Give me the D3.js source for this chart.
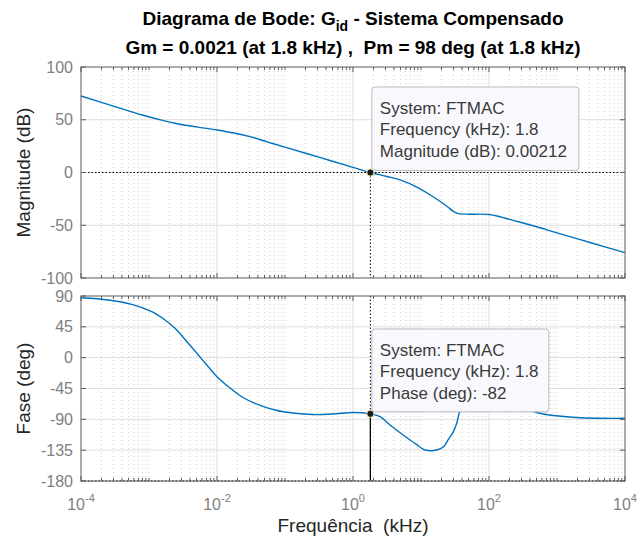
<!DOCTYPE html>
<html>
<head>
<meta charset="utf-8">
<script src="https://cdn.jsdelivr.net/npm/d3@7"></script>
<style>
  body { margin: 0; background: #fff; }
  svg { display: block; }
  text { font-family: "Liberation Sans", Arial, Helvetica, sans-serif; white-space: pre; }
</style>
</head>
<body>
<svg id="chart" width="640" height="543"></svg>
<script>
// Open-loop response of the compensated current loop (kHz, dB, deg)
const magFreq = [0.0001, 0.000316, 0.000794, 0.00158, 0.00251, 0.00501, 0.01, 0.0178, 0.0316, 0.0562, 0.1, 0.316, 1.0, 1.8, 3.16, 4.9, 8.7, 15.1, 24, 29.9, 35.5, 46.8, 100, 145, 200, 447, 1000, 3162, 10000];
const magDb   = [72.5, 62.5, 54.5, 49.4, 46.5, 43.2, 40.3, 37.4, 33.7, 28.8, 24.0, 14.5, 4.9, 0.00212, -3.8, -7.0, -13.8, -23, -32.0, -36.8, -39.0, -39.5, -39.8, -41.9, -44.4, -50.5, -57.2, -66.6, -76];

const phaseFreq = [0.0001, 0.000252, 0.000557, 0.0011, 0.00172, 0.00241, 0.00378, 0.00531, 0.00745, 0.01, 0.0147, 0.0231, 0.0362, 0.0713, 0.14, 0.25, 0.5, 1.0, 1.8, 2.5, 3.5, 6.9, 8.6, 10.7, 13.5, 17, 21.4, 25, 30, 33.5, 37, 56, 100, 200, 350, 500, 1700, 10000];
const phaseDeg  = [87.5, 84.2, 77.8, 67.1, 55.0, 42.8, 21.0, 3.9, -13.2, -27.8, -42.4, -57.0, -66.6, -76.4, -81.2, -83, -82.3, -80, -82, -86.2, -98.3, -120.2, -126.5, -133.4, -135.8, -134.8, -130, -120, -108, -95.8, -79, -45, -38, -55, -74, -80, -87, -88.5];

const magTicks   = [100, 50, 0, -50, -100];
const phaseTicks = [90, 45, 0, -45, -90, -135, -180];
const freqTicks  = [1e-4, 1e-2, 1, 1e2, 1e4];
const freqTickExp = ["-4", "-2", "0", "2", "4"];

// Crossover read-out (gain and phase margin point)
const crossFreq  = 1.8;
const crossMag   = 0.00212;
const crossPhase = -82;

const titleMain = "Diagrama de Bode: G";
const titleSub  = "id";
const titleRest = " - Sistema Compensado";
const subtitle  = "Gm = 0.0021 (at 1.8 kHz) ,  Pm = 98 deg (at 1.8 kHz)";
const magTipLines   = ["System: FTMAC", "Frequency (kHz): 1.8", "Magnitude (dB): 0.00212"];
const phaseTipLines = ["System: FTMAC", "Frequency (kHz): 1.8", "Phase (deg): -82"];

const svg = d3.select("#chart");
const left = 81, right = 625;
const magTop = 67, magBot = 278;
const phTop = 296, phBot = 481;

const x = d3.scaleLog().domain([1e-4, 1e4]).range([left, right]);
const yMag = d3.scaleLinear().domain([-100, 100]).range([magBot, magTop]);
const yPh = d3.scaleLinear().domain([-180, 90]).range([phBot, phTop]);

const allTicks = x.ticks();
const isMajor = f => freqTicks.some(t => Math.abs(Math.log10(f) - Math.log10(t)) < 1e-6);
const minorTicks = allTicks.filter(f => !isMajor(f) && f > 1e-4 && f < 1e4);

const axisColor = "#5a5a5a";
const lineColor = "#0072BD";

function panel(yScale, yTicks, top, bot, freqs, vals) {
  const g = svg.append("g");
  // minor vertical grid
  g.selectAll("line.vmin").data(minorTicks).join("line")
    .attr("x1", d => x(d)).attr("x2", d => x(d))
    .attr("y1", top).attr("y2", bot)
    .attr("stroke", "#cfcfcf").attr("stroke-width", 1)
    .attr("stroke-dasharray", "1,3");
  // major vertical grid
  g.selectAll("line.vmaj").data(freqTicks.slice(1, -1)).join("line")
    .attr("x1", d => x(d)).attr("x2", d => x(d))
    .attr("y1", top).attr("y2", bot)
    .attr("stroke", "#dedede").attr("stroke-width", 1);
  // horizontal grid
  g.selectAll("line.h").data(yTicks.slice(1, -1)).join("line")
    .attr("x1", left).attr("x2", right)
    .attr("y1", d => yScale(d)).attr("y2", d => yScale(d))
    .attr("stroke", "#dedede").attr("stroke-width", 1);

  // response curve
  const pts = freqs.map((f, i) => [f, vals[i]]);
  g.append("path").datum(pts)
    .attr("d", d3.line().x(d => x(d[0])).y(d => yScale(d[1])).curve(d3.curveCatmullRom.alpha(0.5)))
    .attr("fill", "none").attr("stroke", lineColor).attr("stroke-width", 1.4);

  return g;
}

function frame(g, yScale, yTicks, top, bot) {
  // ticks on all four sides, pointing inward
  const tk = g.append("g").attr("stroke", axisColor).attr("stroke-width", 1);
  minorTicks.forEach(f => {
    tk.append("line").attr("x1", x(f)).attr("x2", x(f)).attr("y1", top).attr("y2", top + 3);
    tk.append("line").attr("x1", x(f)).attr("x2", x(f)).attr("y1", bot).attr("y2", bot - 3);
  });
  freqTicks.forEach(f => {
    tk.append("line").attr("x1", x(f)).attr("x2", x(f)).attr("y1", top).attr("y2", top + 5);
    tk.append("line").attr("x1", x(f)).attr("x2", x(f)).attr("y1", bot).attr("y2", bot - 5);
  });
  yTicks.forEach(v => {
    tk.append("line").attr("x1", left).attr("x2", left + 5).attr("y1", yScale(v)).attr("y2", yScale(v));
    tk.append("line").attr("x1", right).attr("x2", right - 5).attr("y1", yScale(v)).attr("y2", yScale(v));
  });
  g.append("rect").attr("x", left).attr("y", top)
    .attr("width", right - left).attr("height", bot - top)
    .attr("fill", "none").attr("stroke", axisColor).attr("stroke-width", 1);
  // y tick labels
  g.selectAll("text.yt").data(yTicks).join("text")
    .attr("x", left - 8).attr("y", d => yScale(d))
    .attr("dy", "0.35em").attr("text-anchor", "end")
    .attr("font-size", 16).attr("fill", "#808080")
    .text(d => d);
}

// ----- magnitude panel -----
const gm = panel(yMag, magTicks, magTop, magBot, magFreq, magDb);
gm.append("line").attr("x1", left).attr("x2", right)
  .attr("y1", yMag(0)).attr("y2", yMag(0))
  .attr("stroke", "#000").attr("stroke-width", 1).attr("stroke-dasharray", "1.5,2");
gm.append("line").attr("x1", x(crossFreq)).attr("x2", x(crossFreq))
  .attr("y1", yMag(crossMag)).attr("y2", magBot)
  .attr("stroke", "#000").attr("stroke-width", 1).attr("stroke-dasharray", "1.5,2");
frame(gm, yMag, magTicks, magTop, magBot);

// ----- phase panel -----
const gp = panel(yPh, phaseTicks, phTop, phBot, phaseFreq, phaseDeg);
gp.append("line").attr("x1", left).attr("x2", right)
  .attr("y1", yPh(-180)).attr("y2", yPh(-180))
  .attr("stroke", "#000").attr("stroke-width", 1).attr("stroke-dasharray", "1.5,2");
gp.append("line").attr("x1", x(crossFreq)).attr("x2", x(crossFreq))
  .attr("y1", phTop).attr("y2", yPh(crossPhase))
  .attr("stroke", "#000").attr("stroke-width", 1).attr("stroke-dasharray", "1.5,2");
gp.append("line").attr("x1", x(crossFreq)).attr("x2", x(crossFreq))
  .attr("y1", yPh(crossPhase)).attr("y2", phBot)
  .attr("stroke", "#000").attr("stroke-width", 1.3);
frame(gp, yPh, phaseTicks, phTop, phBot);

// x tick labels (powers of ten)
const xl = svg.append("g");
freqTicks.forEach((f, i) => {
  const t = xl.append("text").attr("x", x(f)).attr("y", 510)
    .attr("text-anchor", "middle").attr("font-size", 16).attr("fill", "#808080");
  t.append("tspan").text("10");
  t.append("tspan").attr("font-size", 11).attr("dy", -8).text(freqTickExp[i]);
});

// data tips
function dataTip(px, py, lines, boxTop, w) {
  const g = svg.append("g");
  const h = py - 2 - boxTop;
  g.append("rect").attr("x", px + 1.5).attr("y", boxTop)
    .attr("width", w).attr("height", h).attr("rx", 3)
    .attr("fill", "#f9f9fd").attr("stroke", "#b9b9c2").attr("stroke-width", 1);
  lines.forEach((s, i) => {
    g.append("text").attr("x", px + 9.5).attr("y", boxTop + 26.5 + i * 21.5)
      .attr("font-size", 17).attr("fill", "#3a3a3a").text(s);
  });
  g.append("circle").attr("cx", px).attr("cy", py).attr("r", 3.6)
    .attr("fill", "#1a1a1a").attr("stroke", "#e6e6a8").attr("stroke-width", 1);
}
dataTip(x(crossFreq), yMag(crossMag), magTipLines, 87, 207);
dataTip(x(crossFreq), yPh(crossPhase), phaseTipLines, 329, 177);

// titles and axis labels
const t1 = svg.append("text").attr("x", (left + right) / 2).attr("y", 24.5)
  .attr("text-anchor", "middle").attr("font-size", 19).attr("font-weight", "bold").attr("fill", "#000");
t1.append("tspan").text(titleMain);
t1.append("tspan").attr("font-size", 14).attr("dy", 6).text(titleSub);
t1.append("tspan").attr("dy", -6).text(titleRest);

svg.append("text").attr("x", (left + right) / 2).attr("y", 53.5)
  .attr("text-anchor", "middle").attr("font-size", 19).attr("font-weight", "bold").attr("fill", "#000")
  .text(subtitle);

svg.append("text").attr("transform", `translate(30,${(magTop + magBot) / 2}) rotate(-90)`)
  .attr("text-anchor", "middle").attr("font-size", 19).attr("fill", "#262626")
  .text("Magnitude (dB)");
svg.append("text").attr("transform", `translate(30,${(phTop + phBot) / 2}) rotate(-90)`)
  .attr("text-anchor", "middle").attr("font-size", 19).attr("fill", "#262626")
  .text("Fase (deg)");
svg.append("text").attr("x", (left + right) / 2).attr("y", 532)
  .attr("text-anchor", "middle").attr("font-size", 19).attr("fill", "#262626")
  .text("Frequência  (kHz)");
</script>
</body>
</html>
